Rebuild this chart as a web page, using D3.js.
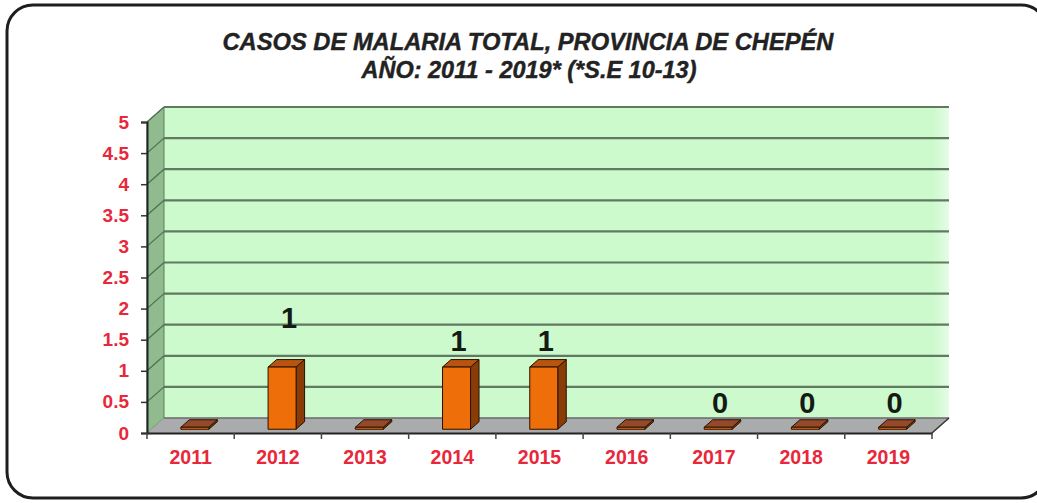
<!DOCTYPE html>
<html>
<head>
<meta charset="utf-8">
<script src="https://cdn.jsdelivr.net/npm/d3@7"></script>
<style>
html,body{margin:0;padding:0;background:#fff;}
svg{display:block;}
</style>
</head>
<body>
<svg id="chart" width="1037" height="503"></svg>
<script>
// ---- data ----
const categories = ["2011","2012","2013","2014","2015","2016","2017","2018","2019"];
const values = [0, 1, 0, 1, 1, 0, 0, 0, 0];
const dataLabels = ["", "1", "", "1", "1", "", "0", "0", "0"];
const yTicks = [0, 0.5, 1, 1.5, 2, 2.5, 3, 3.5, 4, 4.5, 5];
const titleLines = ["CASOS DE MALARIA TOTAL, PROVINCIA DE CHEPÉN", "AÑO: 2011 - 2019* (*S.E 10-13)"];

// ---- layout ----
const svg = d3.select("#chart");
const front = {left: 147, right: 932, bottom: 433, top: 122};
const D = {dx: 17, dy: -15};  // depth vector (front -> back)

const x = d3.scaleBand().domain(categories).range([front.left, front.right]).paddingInner(0).paddingOuter(0);
const y = d3.scaleLinear().domain([0, 5]).range([front.bottom, front.top]);

// frame
svg.append("rect")
  .attr("x", 7).attr("y", 5).attr("width", 1040).attr("height", 493)
  .attr("rx", 26).attr("ry", 26)
  .attr("fill", "#fff").attr("stroke", "#1e1e1e").attr("stroke-width", 3);

// title
const fontFam = "'Liberation Sans', Arial, sans-serif";
svg.append("text").attr("x", 528).attr("y", 50).attr("text-anchor", "middle")
  .attr("font-family", fontFam).attr("font-weight", "bold").attr("font-style", "italic")
  .attr("font-size", 23).attr("fill", "#222").attr("stroke", "#222").attr("stroke-width", 0.4)
  .attr("textLength", 611).attr("lengthAdjust", "spacingAndGlyphs")
  .text(titleLines[0]);
svg.append("text").attr("x", 529).attr("y", 78).attr("text-anchor", "middle")
  .attr("font-family", fontFam).attr("font-weight", "bold").attr("font-style", "italic")
  .attr("font-size", 23).attr("fill", "#222").attr("stroke", "#222").attr("stroke-width", 0.4)
  .attr("textLength", 335).attr("lengthAdjust", "spacingAndGlyphs")
  .text(titleLines[1]);

const P = (px, py, d) => [px + D.dx * d, py + D.dy * d];
const poly = pts => pts.map(p => p.join(",")).join(" ");

// back wall
const backL = front.left + D.dx, backR = front.right + D.dx;
const defs = svg.append("defs");
const wallGrad = defs.append("linearGradient").attr("id", "wallFade").attr("x1", 0).attr("x2", 1);
wallGrad.append("stop").attr("offset", "0%").attr("stop-color", "#ccfacc");
wallGrad.append("stop").attr("offset", "98%").attr("stop-color", "#ccfacc");
wallGrad.append("stop").attr("offset", "100%").attr("stop-color", "#e6fbe6");
svg.append("rect")
  .attr("x", backL).attr("y", y(5) + D.dy)
  .attr("width", backR - backL).attr("height", y(0) - y(5))
  .attr("fill", "url(#wallFade)");

// side wall
svg.append("polygon")
  .attr("points", poly([P(front.left, y(0), 0), P(front.left, y(0), 1), P(front.left, y(5), 1), P(front.left, y(5), 0)]))
  .attr("fill", "#8fbb8f").attr("stroke", "#5d7d5d").attr("stroke-width", 1);

// gridlines (back wall + side wall)
const grid = svg.append("g");
yTicks.forEach(t => {
  if (t === 0) return;
  grid.append("line")
    .attr("x1", backL).attr("x2", backR)
    .attr("y1", y(t) + D.dy).attr("y2", y(t) + D.dy)
    .attr("stroke", "#5f7a5f").attr("stroke-width", 2.2);
  grid.append("line")
    .attr("x1", front.left).attr("x2", backL)
    .attr("y1", y(t)).attr("y2", y(t) + D.dy)
    .attr("stroke", "#4f6e4f").attr("stroke-width", 1.2);
});

// floor
svg.append("polygon")
  .attr("points", poly([P(front.left, y(0), 0), P(front.left, y(0), 1), P(front.right, y(0), 1), P(front.right, y(0), 0)]))
  .attr("fill", "#a9abac");
svg.append("line")
  .attr("x1", backL).attr("x2", backR).attr("y1", y(0) + D.dy).attr("y2", y(0) + D.dy)
  .attr("stroke", "#6a6a6a").attr("stroke-width", 1.5);
svg.append("line")
  .attr("x1", front.right).attr("y1", y(0)).attr("x2", front.right + D.dx).attr("y2", y(0) + D.dy)
  .attr("stroke", "#333").attr("stroke-width", 1.5);

// y axis (front)
const yAxis = d3.axisLeft(y).tickValues(yTicks).tickSize(6).tickPadding(12).tickFormat(d => String(d));
const yg = svg.append("g").attr("transform", `translate(${front.left},0)`).call(yAxis);
yg.select(".domain").attr("stroke", "#222").attr("stroke-width", 2);
yg.selectAll(".tick line").attr("stroke", "#333").attr("stroke-width", 1.5);
yg.selectAll(".tick text")
  .attr("font-family", fontFam).attr("font-weight", "bold").attr("font-size", 19)
  .attr("fill", "#e8283a");

// x axis (front)
const xAxis = d3.axisBottom(x).tickSize(0).tickPadding(17);
const xg = svg.append("g").attr("transform", `translate(0,${front.bottom})`).call(xAxis);
xg.select(".domain").attr("stroke", "#222").attr("stroke-width", 2);
xg.selectAll(".tick text")
  .attr("font-family", fontFam).attr("font-weight", "bold").attr("font-size", 19.5)
  .attr("fill", "#e8283a");
const bounds = categories.map(c => x(c)).concat([x(categories[categories.length - 1]) + x.bandwidth()]);
xg.selectAll(".btick").data(bounds).join("line").attr("class", "btick")
  .attr("x1", d => d).attr("x2", d => d).attr("y1", 0).attr("y2", 6)
  .attr("stroke", "#444").attr("stroke-width", 1.5);

// bars (3D columns)
const barW = 28, d0 = 0.25, d1 = 0.75;
const bars = svg.append("g");
categories.forEach((c, i) => {
  const v = values[i];
  const cx = x(c) + x.bandwidth() / 2;
  const xl = cx - barW / 2, xr = cx + barW / 2;
  const yb = y(0), yt = v > 0 ? y(v) : y(0) - 2;
  const g = bars.append("g");
  g.append("polygon")
    .attr("points", poly([P(xr, yb, d0), P(xr, yb, d1), P(xr, yt, d1), P(xr, yt, d0)]))
    .attr("fill", "#8a3c08").attr("stroke", "#2a1200").attr("stroke-width", 1);
  g.append("polygon")
    .attr("points", poly([P(xl, yt, d0), P(xr, yt, d0), P(xr, yt, d1), P(xl, yt, d1)]))
    .attr("fill", v > 0 ? "#b85310" : "#94492a").attr("stroke", "#2a1200").attr("stroke-width", 1);
  g.append("polygon")
    .attr("points", poly([P(xl, yb, d0), P(xr, yb, d0), P(xr, yt, d0), P(xl, yt, d0)]))
    .attr("fill", "#ee6e0a").attr("stroke", "#2a1200").attr("stroke-width", 1);
});

// data labels
const labels = svg.append("g");
categories.forEach((c, i) => {
  if (!dataLabels[i]) return;
  let cx = x(c) + x.bandwidth() / 2 + D.dx * d0 + 2;
  let by = y(values[i]) + D.dy * d1 - 9;
  if (c === "2012") { by -= 23; cx += 5; }
  labels.append("text")
    .attr("x", cx).attr("y", by).attr("text-anchor", "middle")
    .attr("font-family", fontFam).attr("font-weight", "bold").attr("font-size", 29)
    .attr("fill", "#141a14")
    .text(dataLabels[i]);
});
</script>
</body>
</html>
